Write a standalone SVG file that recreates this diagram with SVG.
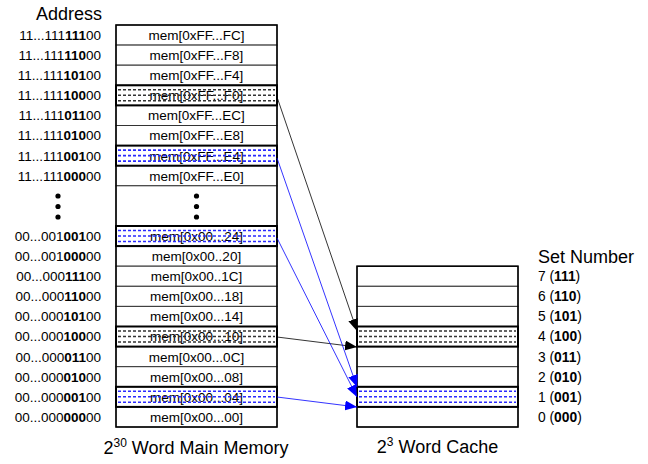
<svg xmlns="http://www.w3.org/2000/svg" width="648" height="464" viewBox="0 0 648 464">
<style>
text{font-family:"Liberation Sans",Arial,sans-serif;fill:#000}
.addr{font-size:13.5px;text-anchor:end}
.mem{font-size:13.5px;text-anchor:middle}
.set{font-size:13.8px}
.ttl{font-size:18px}
.b{font-weight:bold}
.row{fill:#fff;stroke:#333;stroke-width:1}
.outer{fill:none;stroke:#000;stroke-width:1.5}
.hl{fill:none;stroke:#000;stroke-width:2}
.dk{stroke:#333;stroke-width:1.6;stroke-dasharray:3 2;fill:none}
.db{stroke:#2a2aff;stroke-width:1.6;stroke-dasharray:3 2;fill:none}
.ak{stroke:#000;stroke-width:0.8;fill:none}
.ab{stroke:#0000ff;stroke-width:0.8;fill:none}
</style>
<defs>
<marker id="mk" markerUnits="userSpaceOnUse" markerWidth="12" markerHeight="10" refX="12" refY="5" orient="auto"><path d="M0,0 L12,5 L0,10 z" fill="#000"/></marker>
<marker id="mb" markerUnits="userSpaceOnUse" markerWidth="12" markerHeight="10" refX="12" refY="5" orient="auto"><path d="M0,0 L12,5 L0,10 z" fill="#0000ff"/></marker>
</defs>

<text class="ttl" x="36" y="20">Address</text>
<text class="ttl" x="538" y="263">Set Number</text>

<g id="memory">
<rect class="row" x="116" y="25" width="161" height="20.1"/>
<rect class="row" x="116" y="45.1" width="161" height="20.1"/>
<rect class="row" x="116" y="65.2" width="161" height="20.1"/>
<rect class="row" x="116" y="85.3" width="161" height="20.1"/>
<rect class="row" x="116" y="105.4" width="161" height="20.1"/>
<rect class="row" x="116" y="125.5" width="161" height="20.1"/>
<rect class="row" x="116" y="145.6" width="161" height="20.1"/>
<rect class="row" x="116" y="165.7" width="161" height="20.1"/>
<rect class="row" x="116" y="185.8" width="161" height="40.2"/>
<rect class="row" x="116" y="226" width="161" height="20.1"/>
<rect class="row" x="116" y="246.1" width="161" height="20.1"/>
<rect class="row" x="116" y="266.2" width="161" height="20.1"/>
<rect class="row" x="116" y="286.3" width="161" height="20.1"/>
<rect class="row" x="116" y="306.4" width="161" height="20.1"/>
<rect class="row" x="116" y="326.5" width="161" height="20.1"/>
<rect class="row" x="116" y="346.6" width="161" height="20.1"/>
<rect class="row" x="116" y="366.7" width="161" height="20.1"/>
<rect class="row" x="116" y="386.8" width="161" height="20.1"/>
<rect class="row" x="116" y="406.9" width="161" height="20.1"/>
<rect class="outer" x="116" y="25" width="161" height="402"/>

<text class="mem" x="196.5" y="39.9">mem[0xFF...FC]</text>
<text class="mem" x="196.5" y="60">mem[0xFF...F8]</text>
<text class="mem" x="196.5" y="80.1">mem[0xFF...F4]</text>
<text class="mem" x="196.5" y="100.2">mem[0xFF...F0]</text>
<text class="mem" x="196.5" y="120.3">mem[0xFF...EC]</text>
<text class="mem" x="196.5" y="140.4">mem[0xFF...E8]</text>
<text class="mem" x="196.5" y="160.5">mem[0xFF...E4]</text>
<text class="mem" x="196.5" y="180.6">mem[0xFF...E0]</text>
<circle cx="196.5" cy="196" r="2.6"/>
<circle cx="196.5" cy="206.5" r="2.6"/>
<circle cx="196.5" cy="217" r="2.6"/>
<text class="mem" x="196.5" y="240.9">mem[0x00...24]</text>
<text class="mem" x="196.5" y="261">mem[0x00..20]</text>
<text class="mem" x="196.5" y="281.1">mem[0x00..1C]</text>
<text class="mem" x="196.5" y="301.2">mem[0x00...18]</text>
<text class="mem" x="196.5" y="321.3">mem[0x00...14]</text>
<text class="mem" x="196.5" y="341.4">mem[0x00...10]</text>
<text class="mem" x="196.5" y="361.5">mem[0x00...0C]</text>
<text class="mem" x="196.5" y="381.6">mem[0x00...08]</text>
<text class="mem" x="196.5" y="401.7">mem[0x00...04]</text>
<text class="mem" x="196.5" y="421.8">mem[0x00...00]</text>

<g id="hl-F0">
<path class="dk" d="M118,89.8 H275 M118,95.3 H275 M118,100.8 H275"/>
<rect class="hl" x="116" y="85.3" width="161" height="20.1"/>
</g>
<g id="hl-E4">
<path class="db" d="M118,150.1 H275 M118,155.6 H275 M118,161.1 H275"/>
<rect class="hl" x="116" y="145.6" width="161" height="20.1"/>
</g>
<g id="hl-24">
<path class="db" d="M118,230.5 H275 M118,236 H275 M118,241.5 H275"/>
<rect class="hl" x="116" y="226" width="161" height="20.1"/>
</g>
<g id="hl-10">
<path class="dk" d="M118,331 H275 M118,336.5 H275 M118,342 H275"/>
<rect class="hl" x="116" y="326.5" width="161" height="20.1"/>
</g>
<g id="hl-04">
<path class="db" d="M118,391.3 H275 M118,396.8 H275 M118,402.3 H275"/>
<rect class="hl" x="116" y="386.8" width="161" height="20.1"/>
</g>
</g>

<g id="addresses">
<text class="addr" x="101" y="39.9">11...111<tspan class="b">111</tspan>00</text>
<text class="addr" x="101" y="60">11...111<tspan class="b">110</tspan>00</text>
<text class="addr" x="101" y="80.1">11...111<tspan class="b">101</tspan>00</text>
<text class="addr" x="101" y="100.2">11...111<tspan class="b">100</tspan>00</text>
<text class="addr" x="101" y="120.3">11...111<tspan class="b">011</tspan>00</text>
<text class="addr" x="101" y="140.4">11...111<tspan class="b">010</tspan>00</text>
<text class="addr" x="101" y="160.5">11...111<tspan class="b">001</tspan>00</text>
<text class="addr" x="101" y="180.6">11...111<tspan class="b">000</tspan>00</text>
<circle cx="58" cy="196" r="2.6"/>
<circle cx="58" cy="206.5" r="2.6"/>
<circle cx="58" cy="217" r="2.6"/>
<text class="addr" x="101" y="240.9">00...001<tspan class="b">001</tspan>00</text>
<text class="addr" x="101" y="261">00...001<tspan class="b">000</tspan>00</text>
<text class="addr" x="101" y="281.1">00...000<tspan class="b">111</tspan>00</text>
<text class="addr" x="101" y="301.2">00...000<tspan class="b">110</tspan>00</text>
<text class="addr" x="101" y="321.3">00...000<tspan class="b">101</tspan>00</text>
<text class="addr" x="101" y="341.4">00...000<tspan class="b">100</tspan>00</text>
<text class="addr" x="101" y="361.5">00...000<tspan class="b">011</tspan>00</text>
<text class="addr" x="101" y="381.6">00...000<tspan class="b">010</tspan>00</text>
<text class="addr" x="101" y="401.7">00...000<tspan class="b">001</tspan>00</text>
<text class="addr" x="101" y="421.8">00...000<tspan class="b">000</tspan>00</text>
</g>

<g id="cache">
<rect class="row" x="357" y="266.2" width="161" height="20.1"/>
<rect class="row" x="357" y="286.3" width="161" height="20.1"/>
<rect class="row" x="357" y="306.4" width="161" height="20.1"/>
<rect class="row" x="357" y="326.5" width="161" height="20.1"/>
<rect class="row" x="357" y="346.6" width="161" height="20.1"/>
<rect class="row" x="357" y="366.7" width="161" height="20.1"/>
<rect class="row" x="357" y="386.8" width="161" height="20.1"/>
<rect class="row" x="357" y="406.9" width="161" height="20.1"/>
<rect class="outer" x="357" y="266.2" width="161" height="160.8"/>
<g id="cache-hl-4">
<path class="dk" d="M359,331 H516 M359,336.5 H516 M359,342 H516"/>
<rect class="hl" x="357" y="326.5" width="161" height="20.1"/>
</g>
<g id="cache-hl-1">
<path class="db" d="M359,391.3 H516 M359,396.8 H516 M359,402.3 H516"/>
<rect class="hl" x="357" y="386.8" width="161" height="20.1"/>
</g>
</g>

<g id="setnumbers">
<text class="set" x="538" y="281.1">7 (<tspan class="b">111</tspan>)</text>
<text class="set" x="538" y="301.2">6 (<tspan class="b">110</tspan>)</text>
<text class="set" x="538" y="321.3">5 (<tspan class="b">101</tspan>)</text>
<text class="set" x="538" y="341.4">4 (<tspan class="b">100</tspan>)</text>
<text class="set" x="538" y="361.5">3 (<tspan class="b">011</tspan>)</text>
<text class="set" x="538" y="381.6">2 (<tspan class="b">010</tspan>)</text>
<text class="set" x="538" y="401.7">1 (<tspan class="b">001</tspan>)</text>
<text class="set" x="538" y="421.8">0 (<tspan class="b">000</tspan>)</text>
</g>

<g id="connectors">
<line class="ak" x1="277" y1="97" x2="357" y2="331" marker-end="url(#mk)"/>
<line class="ak" x1="277" y1="337" x2="357" y2="347" marker-end="url(#mk)"/>
<line class="ab" x1="277" y1="158" x2="357" y2="387" marker-end="url(#mb)"/>
<line class="ab" x1="277" y1="238" x2="357" y2="397" marker-end="url(#mb)"/>
<line class="ab" x1="277" y1="397" x2="357" y2="407" marker-end="url(#mb)"/>
</g>

<text class="ttl" x="196" y="454" text-anchor="middle">2<tspan font-size="12" dy="-7">30</tspan><tspan dy="7"> Word Main Memory</tspan></text>
<text class="ttl" x="437.5" y="453" text-anchor="middle">2<tspan font-size="12" dy="-7">3</tspan><tspan dy="7"> Word Cache</tspan></text>
</svg>
